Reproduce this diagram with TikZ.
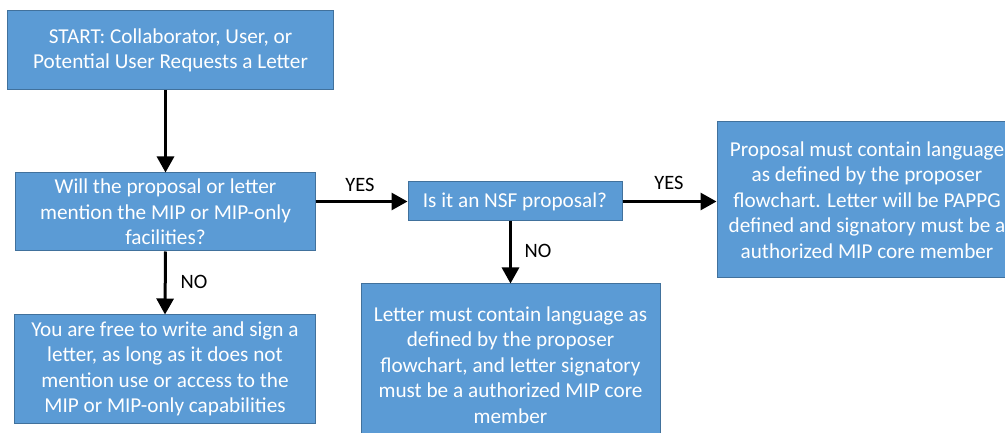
\documentclass[tikz,border=0pt]{standalone}
\usepackage{fontspec}
\setmainfont{Carlito}
\usetikzlibrary{arrows.meta}
\definecolor{boxfill}{HTML}{5B9BD5}
\definecolor{boxline}{HTML}{41719C}
\tikzset{
  flowbox/.style={rectangle, fill=boxfill, draw=boxline, line width=1bp, text=white, align=center, inner sep=0pt, font=\fontsize{21.3}{25.6}\selectfont},
  flowarrow/.style={-{Triangle[length=16bp,width=17bp]}, line width=3bp, black},
  flowlabel/.style={font=\fontsize{20.5}{22}\selectfont, text=black, inner sep=0pt}
}
\begin{document}
\begin{tikzpicture}[x=1bp,y=-1bp]
\clip (0,0) rectangle (1005,433);
\fill[white] (0,0) rectangle (1005,433);
\node[flowbox, minimum width=325bp, minimum height=79bp] (start) at (170.5,50.5) {START: Collaborator, User, or\\Potential User Requests a Letter};
\node[flowbox, minimum width=299bp, minimum height=78bp] (q1) at (165.5,212) {Will the proposal or letter\\mention the MIP or MIP-only\\facilities?};
\node[flowbox, minimum width=214bp, minimum height=39bp] (nsf) at (515,201.5) {Is it an NSF proposal?};
\node[flowbox, minimum width=300bp, minimum height=156bp] (right) at (867,200) {Proposal must contain language\\as defined by the proposer\\flowchart. Letter will be PAPPG\\defined and signatory must be a\\authorized MIP core member};
\node[flowbox, minimum width=300bp, minimum height=108bp] (free) at (165,369) {You are free to write and sign a\\letter, as long as it does not\\mention use or access to the\\MIP or MIP-only capabilities};
\node[flowbox, minimum width=299bp, minimum height=162bp] (letter) at (510.5,365) {Letter must contain language as\\defined by the proposer\\flowchart, and letter signatory\\must be a authorized MIP core\\member};
\draw[flowarrow] (q1.north |- start.south) -- (q1.north);
\draw[flowarrow] (q1.east |- nsf.west) -- (nsf.west);
\draw[flowarrow] (nsf.east) -- (nsf.east -| right.west);
\draw[flowarrow] (letter.north |- nsf.south) -- (letter.north);
\draw[flowarrow] (q1.south) -- (free.north);
\node[flowlabel] (yes1) at (360,185) {YES};
\node[flowlabel] (yes2) at (669,183) {YES};
\node[flowlabel] (no1) at (194,282) {NO};
\node[flowlabel] (no2) at (538,251) {NO};
\end{tikzpicture}
\end{document}
